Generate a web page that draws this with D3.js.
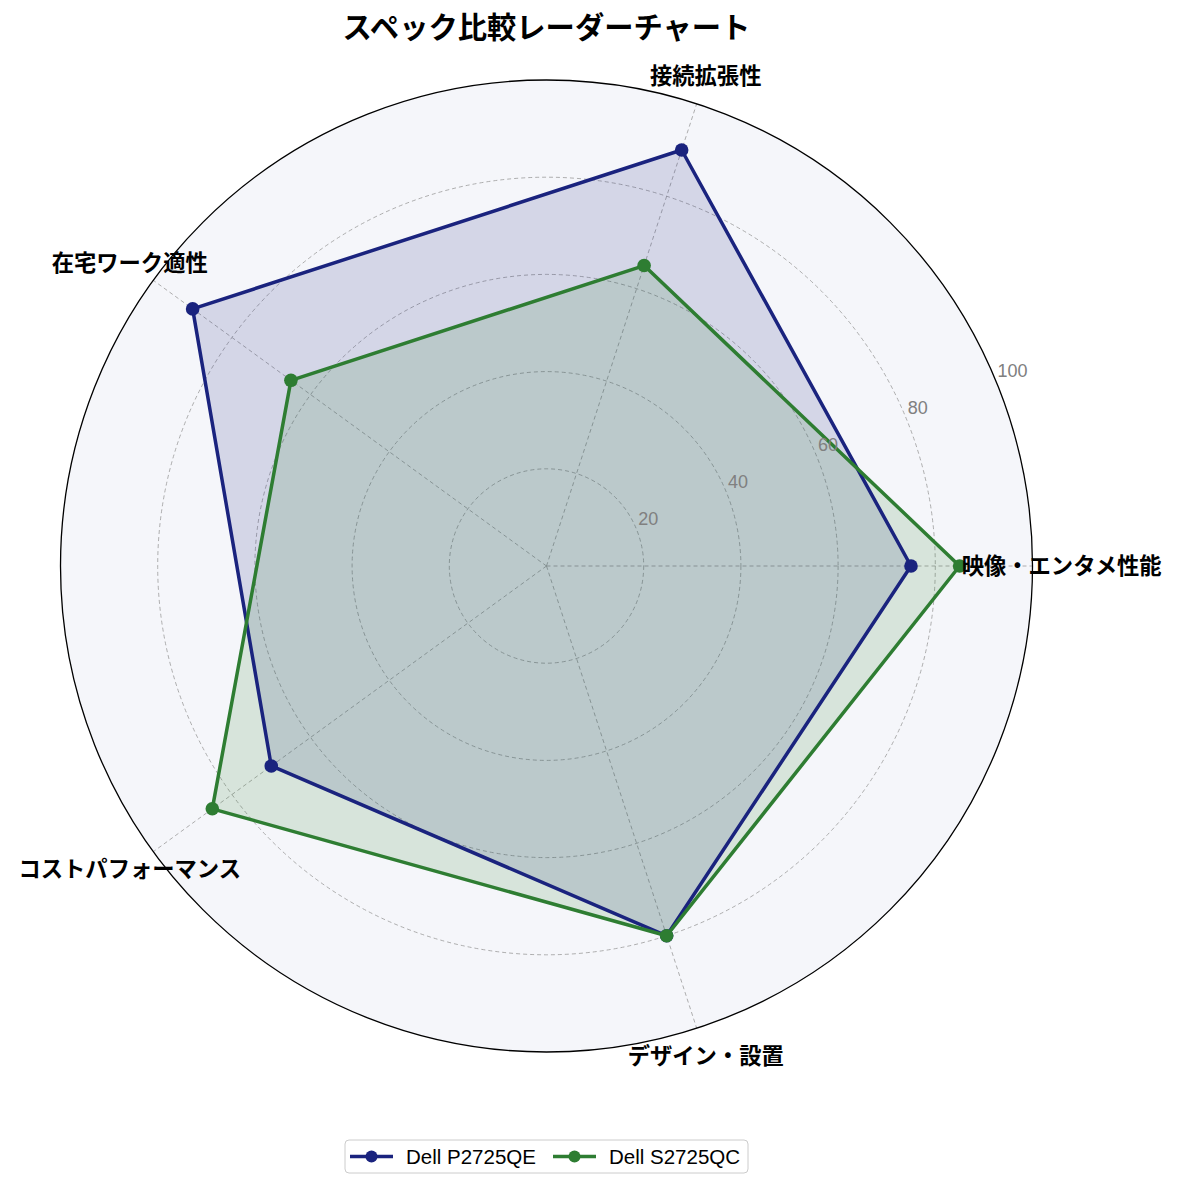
<!DOCTYPE html>
<html><head><meta charset="utf-8">
<script src="https://cdn.jsdelivr.net/npm/d3@7"></script>
<style>body{margin:0;background:#fff}</style>
</head><body>
<svg id="chart" width="1180" height="1189"></svg>
<script>
const categories = ["映像・エンタメ性能","接続拡張性","在宅ワーク適性","コストパフォーマンス","デザイン・設置"];
const seriesNames = ["Dell P2725QE","Dell S2725QC"];
const p2725qe = [75, 90, 90, 70, 80];
const s2725qc = [85, 65, 65, 85, 80];
const tickValues = [20, 40, 60, 80, 100];
const gridValues = [20, 40, 60, 80];
const titleText = "スペック比較レーダーチャート";

const colors = ["#1a237e", "#2e7d32"];
const series = [p2725qe, s2725qc];

const svg = d3.select("#chart");
const cx = 546.5, cy = 566, R = 486;
const rScale = d3.scaleLinear().domain([0, 100]).range([0, R]);
const angle = d3.scaleLinear().domain([0, categories.length]).range([0, 2 * Math.PI]);
const pt = (i, v) => [cx + rScale(v) * Math.cos(angle(i)), cy - rScale(v) * Math.sin(angle(i))];

const jp = "'Noto Sans CJK JP', 'Noto Sans', sans-serif";
const lat = "'Liberation Sans', Arial, sans-serif";

// background
svg.append("circle").attr("cx", cx).attr("cy", cy).attr("r", rScale(100)).attr("fill", "#f5f6fa");

// grid circles
svg.selectAll(".grid").data(gridValues).join("circle")
  .attr("cx", cx).attr("cy", cy).attr("r", d => rScale(d))
  .attr("fill", "none").attr("stroke", "#9a9a9a").attr("stroke-width", 0.8).attr("stroke-dasharray", "4,3");

// spokes
svg.selectAll(".spoke").data(categories).join("line")
  .attr("x1", cx).attr("y1", cy)
  .attr("x2", (d, i) => pt(i, 100)[0]).attr("y2", (d, i) => pt(i, 100)[1])
  .attr("stroke", "#9a9a9a").attr("stroke-width", 0.8).attr("stroke-dasharray", "4,3");

// series
const line = d3.line().curve(d3.curveLinearClosed);
series.forEach((vals, s) => {
  const pts = vals.map((v, i) => pt(i, v));
  svg.append("path").attr("d", line(pts)).attr("fill", colors[s]).attr("fill-opacity", 0.15).attr("stroke", "none");
});
series.forEach((vals, s) => {
  const pts = vals.map((v, i) => pt(i, v));
  svg.append("path").attr("d", line(pts)).attr("fill", "none").attr("stroke", colors[s])
    .attr("stroke-width", 3.5).attr("stroke-linejoin", "round");
  svg.selectAll(null).data(pts).join("circle")
    .attr("cx", d => d[0]).attr("cy", d => d[1]).attr("r", 6.8).attr("fill", colors[s]);
});

// outer circle
svg.append("circle").attr("cx", cx).attr("cy", cy).attr("r", rScale(100))
  .attr("fill", "none").attr("stroke", "#000").attr("stroke-width", 1.3);

// tick labels
const tickAng = Math.PI / 8;
svg.selectAll(".tick").data(tickValues).join("text")
  .attr("x", d => cx + rScale(d) * Math.cos(tickAng) + 2)
  .attr("y", d => cy - rScale(d) * Math.sin(tickAng) - 3.5)
  .attr("font-family", lat).attr("font-size", 18).attr("fill", "#808080")
  .text(d => d);

// category labels
svg.selectAll(".cat").data(categories).join("text")
  .attr("x", (d, i) => pt(i, 106)[0]).attr("y", (d, i) => pt(i, 106)[1] - 2)
  .attr("text-anchor", "middle").attr("dominant-baseline", "central")
  .attr("font-family", jp).attr("font-weight", "bold").attr("font-size", 22.3).attr("fill", "#000")
  .text(d => d);

// title
svg.append("text").attr("x", cx).attr("y", 25).attr("text-anchor", "middle").attr("dominant-baseline", "central")
  .attr("font-family", jp).attr("font-weight", "bold").attr("font-size", 29.3).attr("fill", "#000")
  .text(titleText);

// legend
const lg = svg.append("g");
lg.append("rect").attr("x", 345).attr("y", 1140).attr("width", 403).attr("height", 33).attr("rx", 4)
  .attr("fill", "#fff").attr("stroke", "#cccccc").attr("stroke-width", 1);
const legX = [350, 553];
seriesNames.forEach((name, s) => {
  const x0 = legX[s], y0 = 1156.5;
  lg.append("line").attr("x1", x0).attr("x2", x0 + 43).attr("y1", y0).attr("y2", y0)
    .attr("stroke", colors[s]).attr("stroke-width", 3.5);
  lg.append("circle").attr("cx", x0 + 21.5).attr("cy", y0).attr("r", 6).attr("fill", colors[s]);
  lg.append("text").attr("x", x0 + 56).attr("y", y0).attr("dominant-baseline", "central")
    .attr("font-family", lat).attr("font-size", 20.5).attr("fill", "#000").text(name);
});
</script>
</body></html>
